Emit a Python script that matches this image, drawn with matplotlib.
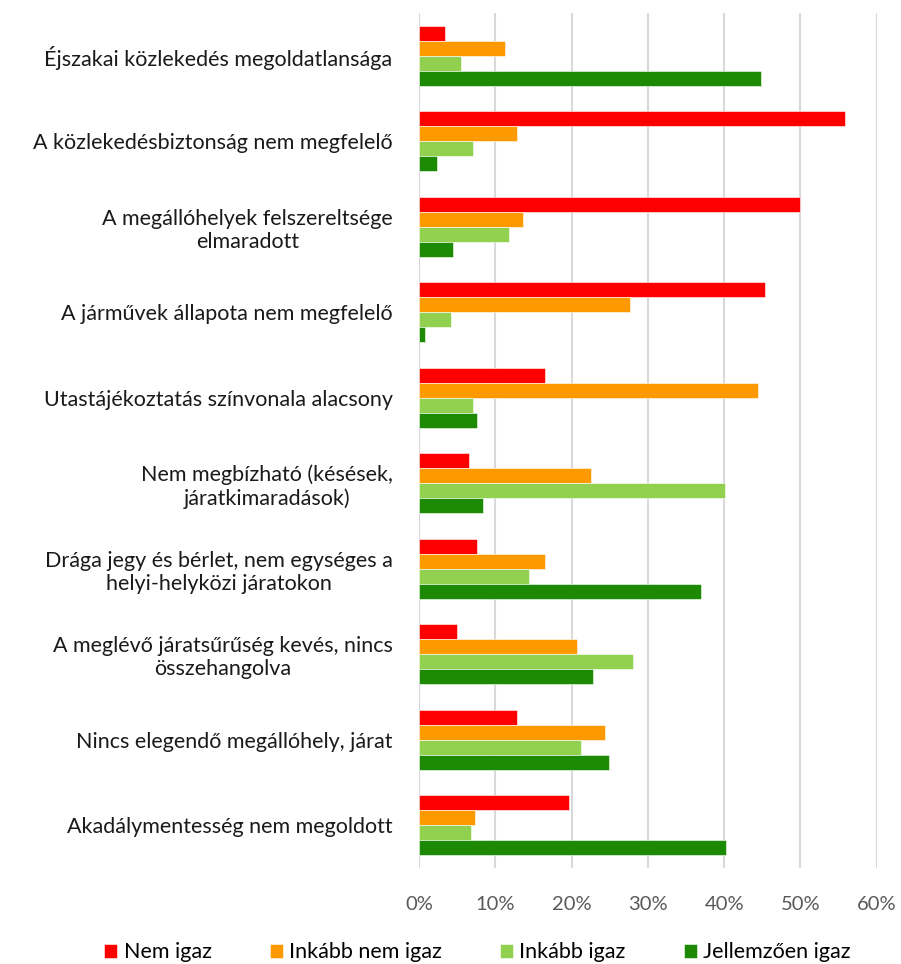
import matplotlib
matplotlib.use("Agg")
import matplotlib.pyplot as plt
import numpy as np
from matplotlib.ticker import FuncFormatter

plt.rcParams['font.family'] = ['Lato', 'DejaVu Sans']

categories = [
    "Éjszakai közlekedés megoldatlansága",
    "A közlekedésbiztonság nem megfelelő",
    "A megállóhelyek felszereltsége\nelmaradott",
    "A járművek állapota nem megfelelő",
    "Utastájékoztatás színvonala alacsony",
    "Nem megbízható (késések,\njáratkimaradások)",
    "Drága jegy és bérlet, nem egységes a\nhelyi-helyközi járatokon",
    "A meglévő járatsűrűség kevés, nincs\nösszehangolva",
    "Nincs elegendő megállóhely, járat",
    "Akadálymentesség nem megoldott",
]
series_names = ["Nem igaz", "Inkább nem igaz", "Inkább igaz", "Jellemzően igaz"]
nem_igaz = [3.4, 55.9, 49.9, 45.4, 16.5, 6.6, 7.6, 5.0, 12.9, 19.7]
inkabb_nem_igaz = [11.3, 12.9, 13.6, 27.6, 44.4, 22.6, 16.5, 20.7, 24.4, 7.3]
inkabb_igaz = [5.5, 7.1, 11.8, 4.2, 7.1, 40.1, 14.4, 28.1, 21.3, 6.8]
jellemzoen_igaz = [44.9, 2.4, 4.5, 0.8, 7.6, 8.4, 37.0, 22.8, 24.9, 40.2]
colors = ["#FF0000", "#FF9900", "#92D050", "#1C8A03"]
xticks = [0, 10, 20, 30, 40, 50, 60]

data = [nem_igaz, inkabb_nem_igaz, inkabb_igaz, jellemzoen_igaz]

fig = plt.figure(figsize=(9.01, 9.64), dpi=100)
ax = fig.add_axes([0.465, 0.0996, 0.508, 0.887])

n = len(categories)
y = np.arange(n)
bh = 0.175
for i, (vals, name, c) in enumerate(zip(data, series_names, colors)):
    offs = (i - 1.5) * bh
    ax.barh(y + offs, vals, height=bh, color=c, label=name,
            edgecolor='white', linewidth=0.4, zorder=3)

ax.set_ylim(n - 0.5, -0.5)
ax.set_xlim(0, 60)
ax.set_xticks(xticks)
ax.xaxis.set_major_formatter(FuncFormatter(lambda v, p: f"{int(v)}%"))
ax.set_yticks(y)
ax.set_yticklabels(categories, multialignment='center')
ax.tick_params(axis='y', length=0, pad=19, labelsize=15.5, labelcolor='#1a1a1a')
ax.tick_params(axis='x', length=0, pad=20, labelsize=14.5, labelcolor='#595959')
ax.grid(axis='x', color='#d9d9d9', linewidth=1.5, zorder=0)
for s in ax.spines.values():
    s.set_visible(False)

handles, labels = ax.get_legend_handles_labels()
fig.legend(handles, labels, loc='center', bbox_to_anchor=(0.53, 0.012), ncol=4,
           frameon=False, fontsize=15.5, handlelength=0.6, handleheight=0.6,
           handletextpad=0.3, columnspacing=2.7)

fig.savefig("out.png", dpi=100)
